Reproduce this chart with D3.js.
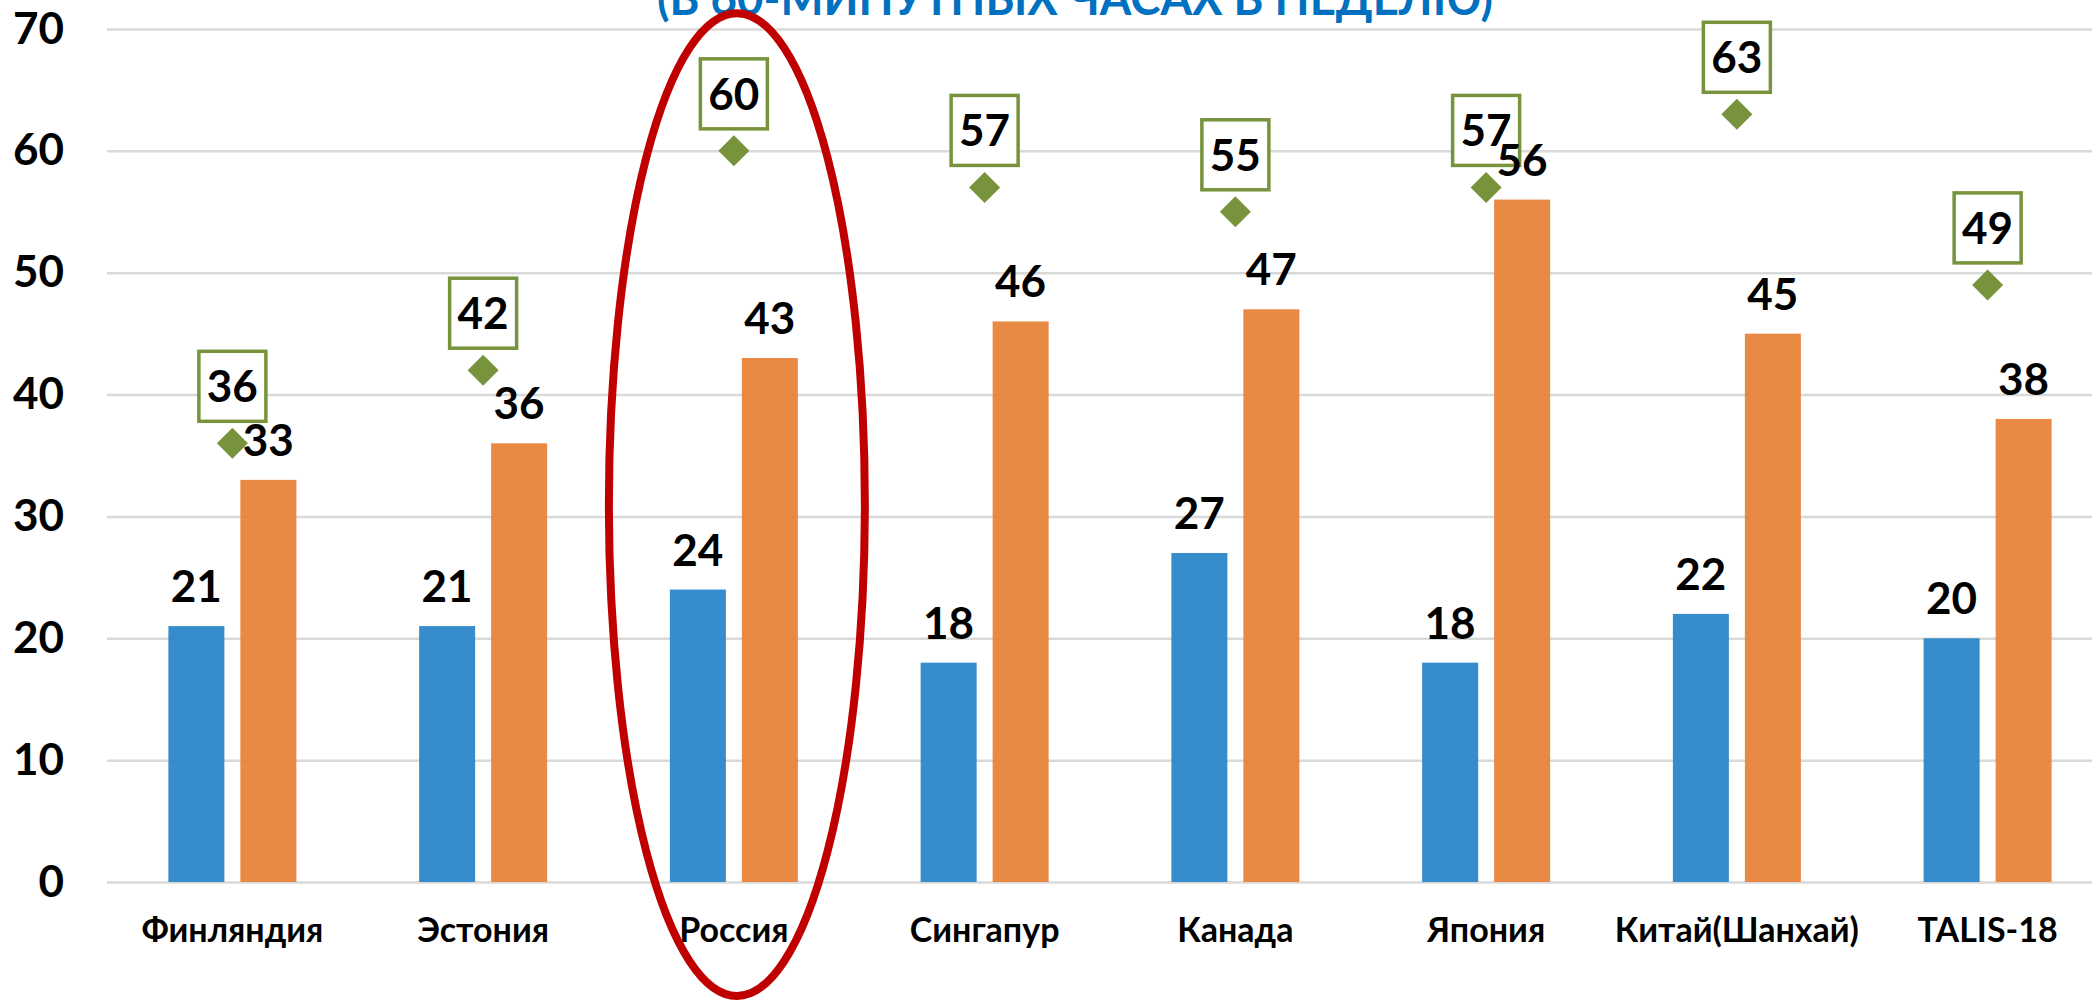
<!DOCTYPE html>
<html>
<head>
<meta charset="utf-8">
<script src="https://cdn.jsdelivr.net/npm/d3@7"></script>
<style>
  html, body { margin: 0; padding: 0; background: #fff; }
  svg { display: block; }
  text { font-family: Lato, "Open Sans", sans-serif; font-weight: bold; }
</style>
</head>
<body>
<div id="chart-container"></div>
<script>
// Data
const countries = ["Финляндия", "Эстония", "Россия", "Сингапур", "Канада", "Япония", "Китай(Шанхай)", "TALIS-18"];
const blueValues = [21, 21, 24, 18, 27, 18, 22, 20];
const orangeValues = [33, 36, 43, 46, 47, 56, 45, 38];
const totalValues = [36, 42, 60, 57, 55, 57, 63, 49];
const yTicks = [0, 10, 20, 30, 40, 50, 60, 70];
const titleText = "(В 60-МИНУТНЫХ ЧАСАХ В НЕДЕЛЮ)";
const highlighted = "Россия";

// Dimensions
const W = 2092, H = 1001;
const plot = {left: 107, right: 2113, top: 29, bottom: 882};

const svg = d3.select("#chart-container")
  .append("svg")
  .attr("width", W)
  .attr("height", H);

// Scales
const x0 = d3.scaleBand()
  .domain(countries)
  .range([plot.left, plot.right]);

const pairWidth = 128;
const x1 = d3.scaleBand()
  .domain(["blue", "orange"])
  .range([(x0.bandwidth() - pairWidth) / 2, (x0.bandwidth() + pairWidth) / 2])
  .paddingInner(0.222);

const y = d3.scaleLinear()
  .domain([0, 70])
  .range([plot.bottom, plot.top]);

const color = {blue: "#2C86C9", orange: "#E8843A"};
const green = "#77933C";

// Gridlines + y labels
const yAxis = svg.append("g")
  .attr("transform", `translate(${plot.left},0)`)
  .call(d3.axisLeft(y).tickValues(yTicks).tickSize(-(W - plot.left)).tickPadding(43));
yAxis.select(".domain").remove();
yAxis.selectAll(".tick line")
  .attr("stroke", "#D9D9D9")
  .attr("stroke-width", 2.5);
yAxis.selectAll(".tick text")
  .attr("fill", "#000")
  .style("font-size", "44px")
  .style("font-family", "Lato, 'Open Sans', sans-serif")
  .style("font-weight", "bold");

// Title (cut off at top, as in the source slide)
svg.append("text")
  .attr("x", 657)
  .attr("y", 15)
  .attr("textLength", 836)
  .attr("lengthAdjust", "spacingAndGlyphs")
  .attr("fill", "#0070C0")
  .style("font-size", "48px")
  .text(titleText);

// Bars
const rows = countries.map((c, i) => ({
  country: c,
  values: [
    {key: "blue", value: blueValues[i]},
    {key: "orange", value: orangeValues[i]}
  ],
  total: totalValues[i]
}));

const groups = svg.selectAll(".group")
  .data(rows)
  .join("g")
  .attr("class", "group")
  .attr("transform", d => `translate(${x0(d.country)},0)`);

groups.selectAll(".bar")
  .data(d => d.values)
  .join("rect")
  .attr("class", "bar")
  .attr("x", d => x1(d.key))
  .attr("y", d => y(d.value))
  .attr("width", x1.bandwidth())
  .attr("height", d => y(0) - y(d.value))
  .attr("fill", d => color[d.key])
  .attr("fill-opacity", 0.95);

// Diamonds with boxed labels
const cx = x0.bandwidth() / 2;
groups.append("path")
  .attr("d", d3.symbol(d3.symbolSquare).size(480))
  .attr("transform", d => `translate(${cx},${y(d.total)}) rotate(45)`)
  .attr("fill", green);

const boxW = 67, boxH = 70, lift = 57;
groups.append("rect")
  .attr("x", cx - boxW / 2)
  .attr("y", d => y(d.total) - lift - boxH / 2)
  .attr("width", boxW)
  .attr("height", boxH)
  .attr("fill", "#fff")
  .attr("stroke", green)
  .attr("stroke-width", 3.5);

groups.append("text")
  .attr("x", cx)
  .attr("y", d => y(d.total) - lift)
  .attr("dy", "0.36em")
  .attr("text-anchor", "middle")
  .style("font-size", "44px")
  .text(d => d.total);

// Bar value labels (drawn on top)
groups.selectAll(".val")
  .data(d => d.values)
  .join("text")
  .attr("class", "val")
  .attr("x", d => x1(d.key) + x1.bandwidth() / 2)
  .attr("y", d => y(d.value) - 24)
  .attr("text-anchor", "middle")
  .style("font-size", "44px")
  .text(d => d.value);

// Category labels
groups.append("text")
  .attr("x", cx)
  .attr("y", 942)
  .attr("text-anchor", "middle")
  .style("font-size", "34px")
  .text(d => d.country);

// Red ellipse around highlighted country
svg.append("ellipse")
  .attr("cx", x0(highlighted) + x0.bandwidth() / 2 + 3)
  .attr("cy", (y(71.3) + 996) / 2)
  .attr("rx", 128)
  .attr("ry", (996 - y(71.3)) / 2)
  .attr("fill", "none")
  .attr("stroke", "#C00000")
  .attr("stroke-width", 8);
</script>
</body>
</html>
